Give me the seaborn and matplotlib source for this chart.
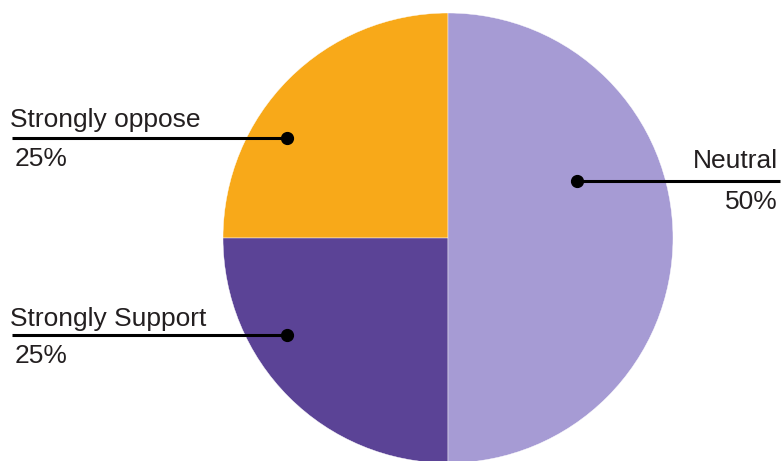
import matplotlib
matplotlib.use("Agg")
import matplotlib.pyplot as plt
import seaborn as sns

# Survey response shares
categories = ["Strongly oppose", "Strongly Support", "Neutral"]
shares = [25, 25, 50]
share_labels = ["25%", "25%", "50%"]
colors = ["#F8A919", "#5B4396", "#A69BD4"]

sns.set_theme(style="white")
plt.rcParams["font.family"] = ["Liberation Sans", "DejaVu Sans"]

W, H = 782, 461
fig = plt.figure(figsize=(W / 100, H / 100), dpi=100)
ax = fig.add_axes([0, 0, 1, 1])

# Pie in pixel-like coordinates (y pointing up)
cx, cy, r = 448, H - 238, 225
ax.pie(shares, colors=colors, startangle=90, counterclock=True,
       center=(cx, cy), radius=r,
       wedgeprops=dict(edgecolor="white", linewidth=0.3, antialiased=True))
ax.set_xlim(0, W)
ax.set_ylim(0, H)
ax.set_aspect("equal")
ax.axis("off")

# Callout layout: anchor dot, leader line end, text anchors
callouts = {
    "Strongly oppose": dict(dot=(287, 138), end=12, label=(10, 127), pct=(15, 159), ha="left"),
    "Strongly Support": dict(dot=(287, 335), end=12, label=(10, 326), pct=(15, 356), ha="left"),
    "Neutral": dict(dot=(577, 181), end=780, label=(778, 168), pct=(778, 202), ha="right"),
}

text_color = "#231F20"
for name, pct in zip(categories, share_labels):
    c = callouts[name]
    dx, dy = c["dot"]
    ax.plot([c["end"], dx], [H - dy, H - dy], color="black", lw=2.2,
            solid_capstyle="butt", zorder=3)
    ax.plot(dx, H - dy, "o", color="black", markersize=8.5, zorder=4)
    ax.text(c["label"][0], H - c["label"][1], name, ha=c["ha"], va="baseline",
            fontsize=19, color=text_color)
    ax.text(c["pct"][0], H - c["pct"][1], pct, ha=c["ha"], va="center",
            fontsize=19, color=text_color)

fig.savefig("out.png", dpi=100, facecolor="white")
